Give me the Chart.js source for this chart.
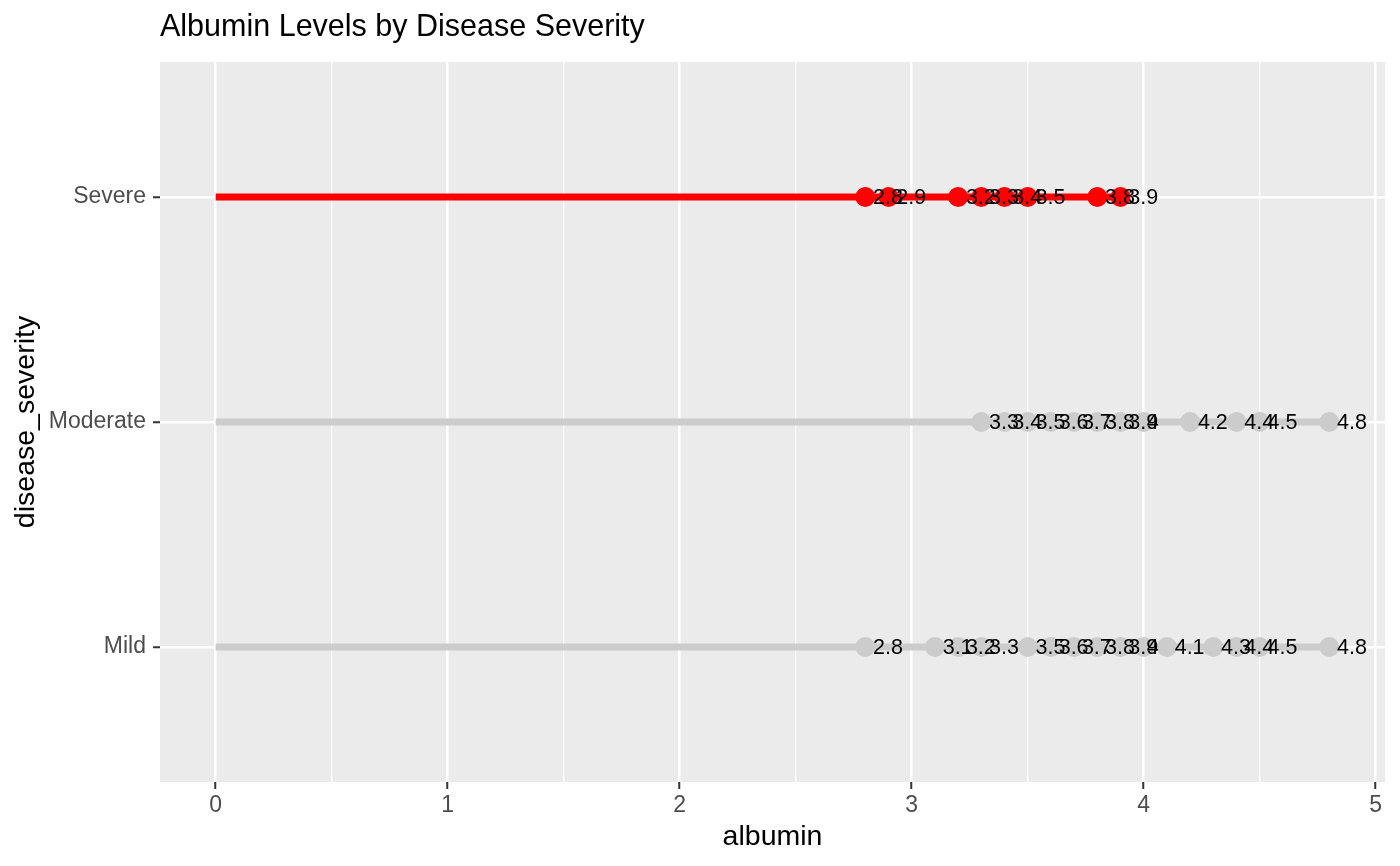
<!DOCTYPE html>
<html>
<head>
<meta charset="utf-8">
<title>Albumin Levels by Disease Severity</title>
<script src="https://cdn.jsdelivr.net/npm/chart.js@4.4.1/dist/chart.umd.min.js"></script>
<style>
	html, body { margin: 0; padding: 0; background: #ffffff; }
	#wrap { width: 1400px; height: 866px; }
</style>
</head>
<body>
<div id="wrap"><canvas id="albuminChart" width="1400" height="866"></canvas></div>
<script>
	// categories (bottom -> top)
	const categories = ['Mild', 'Moderate', 'Severe'];
	const highlightCategory = 'Severe';

	// albumin values per severity
	const mildAlbumin = [2.8, 3.1, 3.2, 3.3, 3.5, 3.6, 3.7, 3.8, 3.9, 4, 4.1, 4.3, 4.4, 4.5, 4.8];
	const moderateAlbumin = [3.3, 3.4, 3.5, 3.6, 3.7, 3.8, 3.9, 4, 4.2, 4.4, 4.5, 4.8];
	const severeAlbumin = [2.8, 2.9, 3.2, 3.3, 3.4, 3.5, 3.8, 3.9];

	// x axis ticks
	const xMajorTicks = [0, 1, 2, 3, 4, 5];
	const xMinorTicks = [0.5, 1.5, 2.5, 3.5, 4.5];

	const seriesValues = [mildAlbumin, moderateAlbumin, severeAlbumin];

	Chart.defaults.font.family = '"Liberation Sans", Arial, Helvetica, sans-serif';

	// build datasets: one segment + one point set per category
	let datasets = [];
	categories.forEach(function(cat, i) {
		let values = seriesValues[i];
		let color = (cat === highlightCategory) ? '#FF0000' : '#CCCCCC';
		let yPos = i + 1;

		// segment from 0 to the largest value
		datasets.push({
			kind: 'segment',
			label: cat,
			data: [{x: 0, y: yPos}, {x: Math.max.apply(null, values), y: yPos}],
			showLine: true,
			borderColor: color,
			borderWidth: 7,
			pointRadius: 0,
			pointHoverRadius: 0,
			order: 2
		});

		// lollipop heads
		datasets.push({
			kind: 'points',
			label: cat,
			data: values.map(function(v) { return {x: v, y: yPos}; }),
			backgroundColor: color,
			borderWidth: 0,
			pointRadius: 10,
			pointHoverRadius: 10,
			order: 1
		});
	});

	// grey panel behind the grid
	const panelBackground = {
		id: 'panelBackground',
		beforeDraw: function(chart) {
			let ctx = chart.ctx;
			let a = chart.chartArea;
			ctx.save();
			ctx.fillStyle = '#FFFFFF';
			ctx.fillRect(0, 0, chart.width, chart.height);
			ctx.fillStyle = '#EBEBEB';
			ctx.fillRect(a.left, a.top, a.right - a.left, a.bottom - a.top);
			ctx.restore();
		}
	};

	// value text next to each point
	const valueLabels = {
		id: 'valueLabels',
		afterDatasetsDraw: function(chart) {
			let ctx = chart.ctx;
			ctx.save();
			ctx.font = '21.5px "Liberation Sans", Arial, sans-serif';
			ctx.fillStyle = '#000000';
			ctx.textAlign = 'left';
			ctx.textBaseline = 'middle';
			chart.data.datasets.forEach(function(ds, di) {
				if (ds.kind !== 'points') return;
				chart.getDatasetMeta(di).data.forEach(function(pt, j) {
					let text = String(ds.data[j].x);
					let w = ctx.measureText(text).width;
					ctx.fillText(text, pt.x + w * 0.26, pt.y + 1);
				});
			});
			ctx.restore();
		}
	};

	function isMajor(v) {
		return xMajorTicks.indexOf(v) !== -1;
	}

	let ctx = document.getElementById('albuminChart').getContext('2d');
	let albuminChart = new Chart(ctx, {
		type: 'scatter',
		data: { datasets: datasets },
		plugins: [panelBackground, valueLabels],
		options: {
			responsive: false,
			animation: false,
			layout: { padding: { left: 0, right: 15, top: 0, bottom: 0 } },
			plugins: {
				legend: { display: false },
				tooltip: { enabled: false },
				title: {
					display: true,
					text: 'Albumin Levels by Disease Severity',
					align: 'start',
					fullSize: false,
					color: '#000000',
					font: { size: 30.5, weight: 'normal', lineHeight: 1.2 },
					padding: { top: 9, bottom: 16.4 }
				}
			},
			scales: {
				x: {
					type: 'linear',
					min: -0.24,
					max: 5.04,
					afterBuildTicks: function(scale) {
						scale.ticks = xMajorTicks.concat(xMinorTicks)
							.sort(function(a, b) { return a - b; })
							.map(function(v) { return {value: v}; });
					},
					afterFit: function(scale) { scale.height = 84; },
					border: { display: false },
					grid: {
						color: '#FFFFFF',
						lineWidth: function(c) { return isMajor(c.tick.value) ? 2.5 : 1.2; },
						tickLength: 7,
						tickWidth: 2,
						tickColor: function(c) { return isMajor(c.tick.value) ? '#333333' : 'rgba(0,0,0,0)'; }
					},
					ticks: {
						autoSkip: false,
						maxRotation: 0,
						padding: 3,
						color: '#4D4D4D',
						font: { size: 23 },
						callback: function(v) { return isMajor(v) ? String(v) : ''; }
					},
					title: {
						display: true,
						text: 'albumin',
						color: '#000000',
						font: { size: 28.5, lineHeight: 1.2 },
						padding: { top: 4, bottom: 12 }
					}
				},
				y: {
					type: 'linear',
					min: 0.4,
					max: 3.6,
					afterBuildTicks: function(scale) {
						scale.ticks = categories.map(function(c, i) { return {value: i + 1}; });
					},
					afterFit: function(scale) { scale.width = 160; },
					border: { display: false },
					grid: {
						color: '#FFFFFF',
						lineWidth: 2.5,
						tickLength: 7,
						tickWidth: 2,
						tickColor: '#333333'
					},
					ticks: {
						padding: 7,
						color: '#4D4D4D',
						font: { size: 23 },
						callback: function(v) { return categories[v - 1]; }
					},
					title: {
						display: true,
						text: 'disease_severity',
						color: '#000000',
						font: { size: 28.5, lineHeight: 1.2 },
						padding: { top: 9, bottom: 0 }
					}
				}
			}
		}
	});
</script>
</body>
</html>
